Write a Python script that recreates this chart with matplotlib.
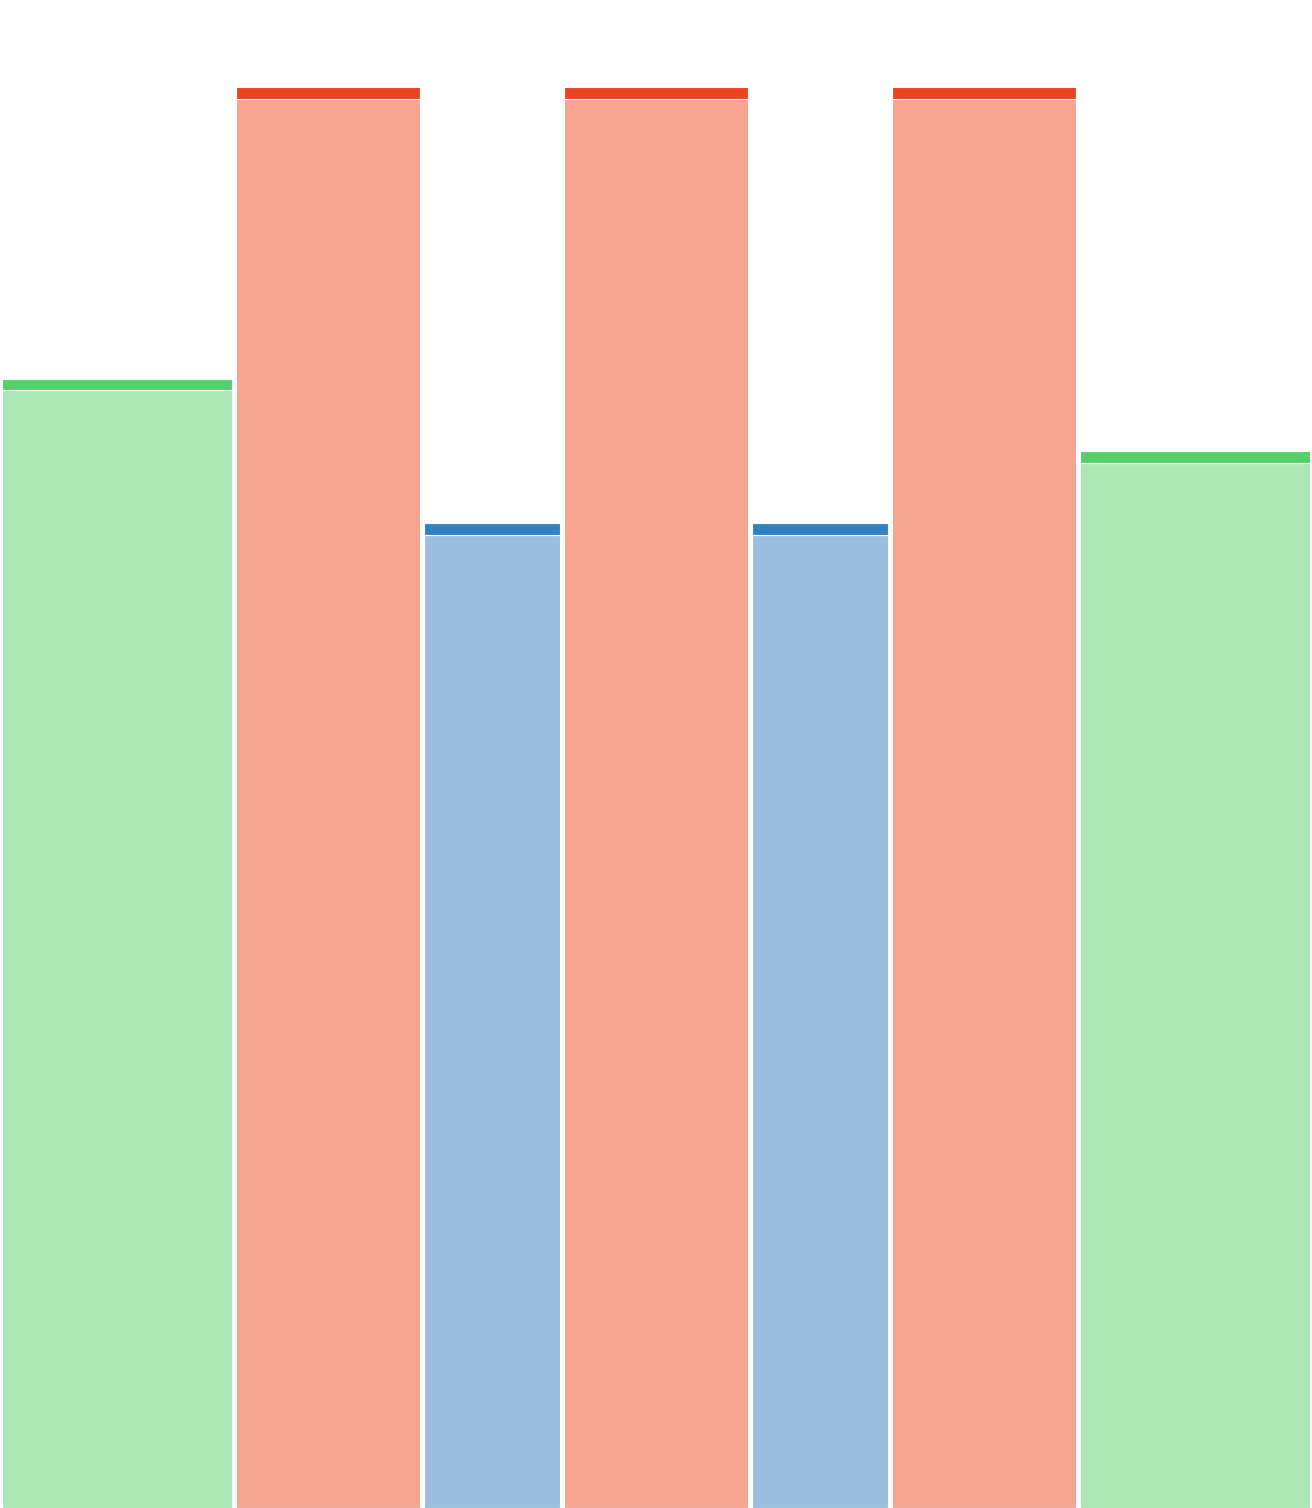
import matplotlib
matplotlib.use('Agg')
import matplotlib.pyplot as plt
import numpy as np

# --- data ---
groups  = ['A', 'B', 'C', 'D', 'E', 'F', 'G']
widths  = [5, 4, 3, 4, 3, 4, 5]              # relative column widths
values  = [74.9, 94.2, 65.3, 94.2, 65.3, 94.2, 70.1]
kinds   = ['green', 'red', 'blue', 'red', 'blue', 'red', 'green']

# --- palette: (fill, cap) ---
COLS = {
    'green': ('#abe7b4', '#54cf6c'),
    'red':   ('#f7a490', '#ea4420'),
    'blue':  ('#9abfdf', '#3182c0'),
}
GAP = 0.09      # white gap between columns, data units
CAP = 0.78      # height of the darker top strip, data units

fig = plt.figure(figsize=(13.12, 15.08), dpi=100)
ax = fig.add_axes([0, 0, 1, 1])
ax.axis('off')

lefts = np.concatenate([[0], np.cumsum(widths)[:-1]])
for left, w, v, k in zip(lefts, widths, values, kinds):
    fill, cap = COLS[k]
    ax.bar(left + GAP / 2, v - CAP, width=w - GAP, align='edge',
           color=fill, edgecolor='white', linewidth=0.8)
    ax.bar(left + GAP / 2, CAP, bottom=v - CAP, width=w - GAP, align='edge',
           color=cap, edgecolor='white', linewidth=0.8)

ax.set_xlim(0, sum(widths))
ax.set_ylim(0, 100)

fig.savefig('out.png', dpi=100, facecolor='white')
